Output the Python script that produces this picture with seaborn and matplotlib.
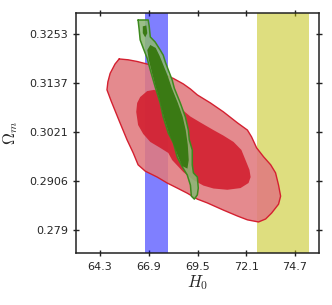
import numpy as np
import pandas as pd
import seaborn as sns
import matplotlib.pyplot as plt

# band constraints on H0 (low / high edge)
blue_band = [66.71, 67.90]
yellow_band = [72.68, 75.46]

# red contours
red_outer_h0 = [65.32, 65.80, 66.28, 66.98, 67.51, 67.88, 68.21, 68.74, 69.12, 69.49,
                70.19, 70.88, 71.63, 72.16, 72.38, 72.65, 73.02, 73.40, 73.66, 73.82,
                73.93, 73.82, 73.45, 73.13, 72.75, 72.16, 71.63, 70.88, 70.02, 69.49,
                68.95, 68.42, 67.88, 67.35, 66.71, 66.33, 66.07, 65.74, 65.32, 64.89,
                64.67, 64.72, 64.84, 65.10]
red_outer_om = [0.3194, 0.3192, 0.3188, 0.3180, 0.3168, 0.3154, 0.3148, 0.3135, 0.3123, 0.3109,
                0.3090, 0.3069, 0.3043, 0.3026, 0.3010, 0.2984, 0.2963, 0.2944, 0.2925, 0.2896,
                0.2870, 0.2851, 0.2830, 0.2816, 0.2809, 0.2814, 0.2823, 0.2837, 0.2854, 0.2863,
                0.2877, 0.2889, 0.2901, 0.2915, 0.2929, 0.2944, 0.2972, 0.3003, 0.3048, 0.3095,
                0.3121, 0.3140, 0.3160, 0.3182]

red_inner_h0 = [66.44, 66.81, 67.19, 67.62, 68.15, 68.58, 69.12, 69.65, 70.35, 70.88,
                71.42, 71.84, 72.06, 72.27, 72.33, 72.22, 71.79, 71.09, 70.35, 69.81,
                69.28, 68.74, 68.15, 67.94, 67.51, 66.98, 66.60, 66.33, 66.23, 66.28]
red_inner_om = [0.3104, 0.3118, 0.3121, 0.3114, 0.3097, 0.3078, 0.3058, 0.3044, 0.3026, 0.3013,
                0.2998, 0.2979, 0.2955, 0.2932, 0.2915, 0.2901, 0.2889, 0.2885, 0.2888, 0.2895,
                0.2908, 0.2927, 0.2955, 0.2972, 0.2984, 0.2998, 0.3017, 0.3038, 0.3069, 0.3090]

# green contours
green_outer_h0 = [66.33, 66.87, 66.92, 66.98, 67.24, 67.51, 67.67, 67.78, 67.94, 68.15,
                  68.26, 68.58, 68.85, 69.01, 69.06, 69.22, 69.22, 69.28, 69.49, 69.54,
                  69.49, 69.33, 69.17, 69.12, 68.95, 68.69, 68.42, 68.21, 67.94, 67.67,
                  67.51, 67.24, 66.98, 66.81, 66.60, 66.44, 66.39]
green_outer_om = [0.3286, 0.3286, 0.3272, 0.3246, 0.3234, 0.3215, 0.3203, 0.3187, 0.3168, 0.3144,
                  0.3125, 0.3090, 0.3057, 0.3026, 0.3003, 0.2979, 0.2944, 0.2925, 0.2915, 0.2889,
                  0.2873, 0.2863, 0.2870, 0.2896, 0.2920, 0.2939, 0.2962, 0.2996, 0.3019, 0.3057,
                  0.3090, 0.3128, 0.3168, 0.3196, 0.3220, 0.3239, 0.3262]

green_inner_h0 = [66.98, 67.27, 67.48, 67.70, 67.91, 68.13, 68.45, 68.71, 68.87, 68.98,
                  69.03, 68.96, 68.68, 68.45, 68.23, 67.97, 67.70, 67.48, 67.27, 67.06,
                  66.90, 66.82]
green_inner_om = [0.3227, 0.3220, 0.3201, 0.3177, 0.3154, 0.3125, 0.3090, 0.3057, 0.3026, 0.2991,
                  0.2955, 0.2935, 0.2941, 0.2965, 0.2991, 0.3019, 0.3057, 0.3097, 0.3128, 0.3163,
                  0.3192, 0.3215]

green_blob_h0 = [66.58, 66.77, 66.82, 66.71, 66.58]
green_blob_om = [0.3271, 0.3273, 0.3255, 0.3245, 0.3255]

xticks = [64.3, 66.9, 69.5, 72.1, 74.7]
yticks = [0.279, 0.2906, 0.3021, 0.3137, 0.3253]

sns.set_style("ticks")
plt.rcParams['font.family'] = ['DejaVu Sans']
plt.rcParams['mathtext.fontset'] = 'cm'

fig = plt.figure(figsize=(3.32, 3.05), dpi=100)
ax = fig.add_axes([0.229, 0.1705, 0.732, 0.787])

ax.axvspan(blue_band[0], blue_band[1], color='b', alpha=0.5, lw=0, zorder=1)
ax.axvspan(yellow_band[0], yellow_band[1], color='y', alpha=0.5, lw=0, zorder=1)


def contour(h0, om, fc, alpha, ec, lw, z):
    ax.fill(h0, om, facecolor=fc, alpha=alpha, lw=0, zorder=z)
    df = pd.DataFrame({'H0': h0 + h0[:1], 'Om': om + om[:1]})
    sns.lineplot(data=df, x='H0', y='Om', sort=False, estimator=None,
                 color=ec, lw=lw, ax=ax, zorder=z + 0.5)


contour(red_outer_h0, red_outer_om, '#e17a7f', 0.88, '#d42030', 1.0, 2)
contour(red_inner_h0, red_inner_om, '#d21d2e', 0.88, '#d21d2e', 0.0, 3)
contour(green_outer_h0, green_outer_om, '#8cb676', 0.88, '#3d8a1e', 1.1, 4)
contour(green_inner_h0, green_inner_om, '#3a7a14', 1.0, '#3a7a14', 0.0, 5)
contour(green_blob_h0, green_blob_om, '#3a7a14', 1.0, '#3a7a14', 0.0, 5)

ax.set_xlim(63.02, 75.98)
ax.set_ylim(0.27357, 0.33026)
ax.set_xticks(xticks)
ax.set_xticklabels([str(t) for t in xticks])
ax.set_yticks(yticks)
ax.set_yticklabels([str(t) for t in yticks])
ax.tick_params(direction='inout', length=5, width=1, labelsize=8,
               top=True, right=True, color='#222222')
ax.tick_params(axis='x', pad=4)
ax.tick_params(axis='y', pad=3)
for s in ax.spines.values():
    s.set_linewidth(1.1)
    s.set_color('#222222')

ax.set_xlabel(r'$H_0$', fontsize=12, labelpad=1)
ax.set_ylabel(r'$\Omega_m$', fontsize=12, labelpad=7)

plt.savefig('out.png', dpi=100)
